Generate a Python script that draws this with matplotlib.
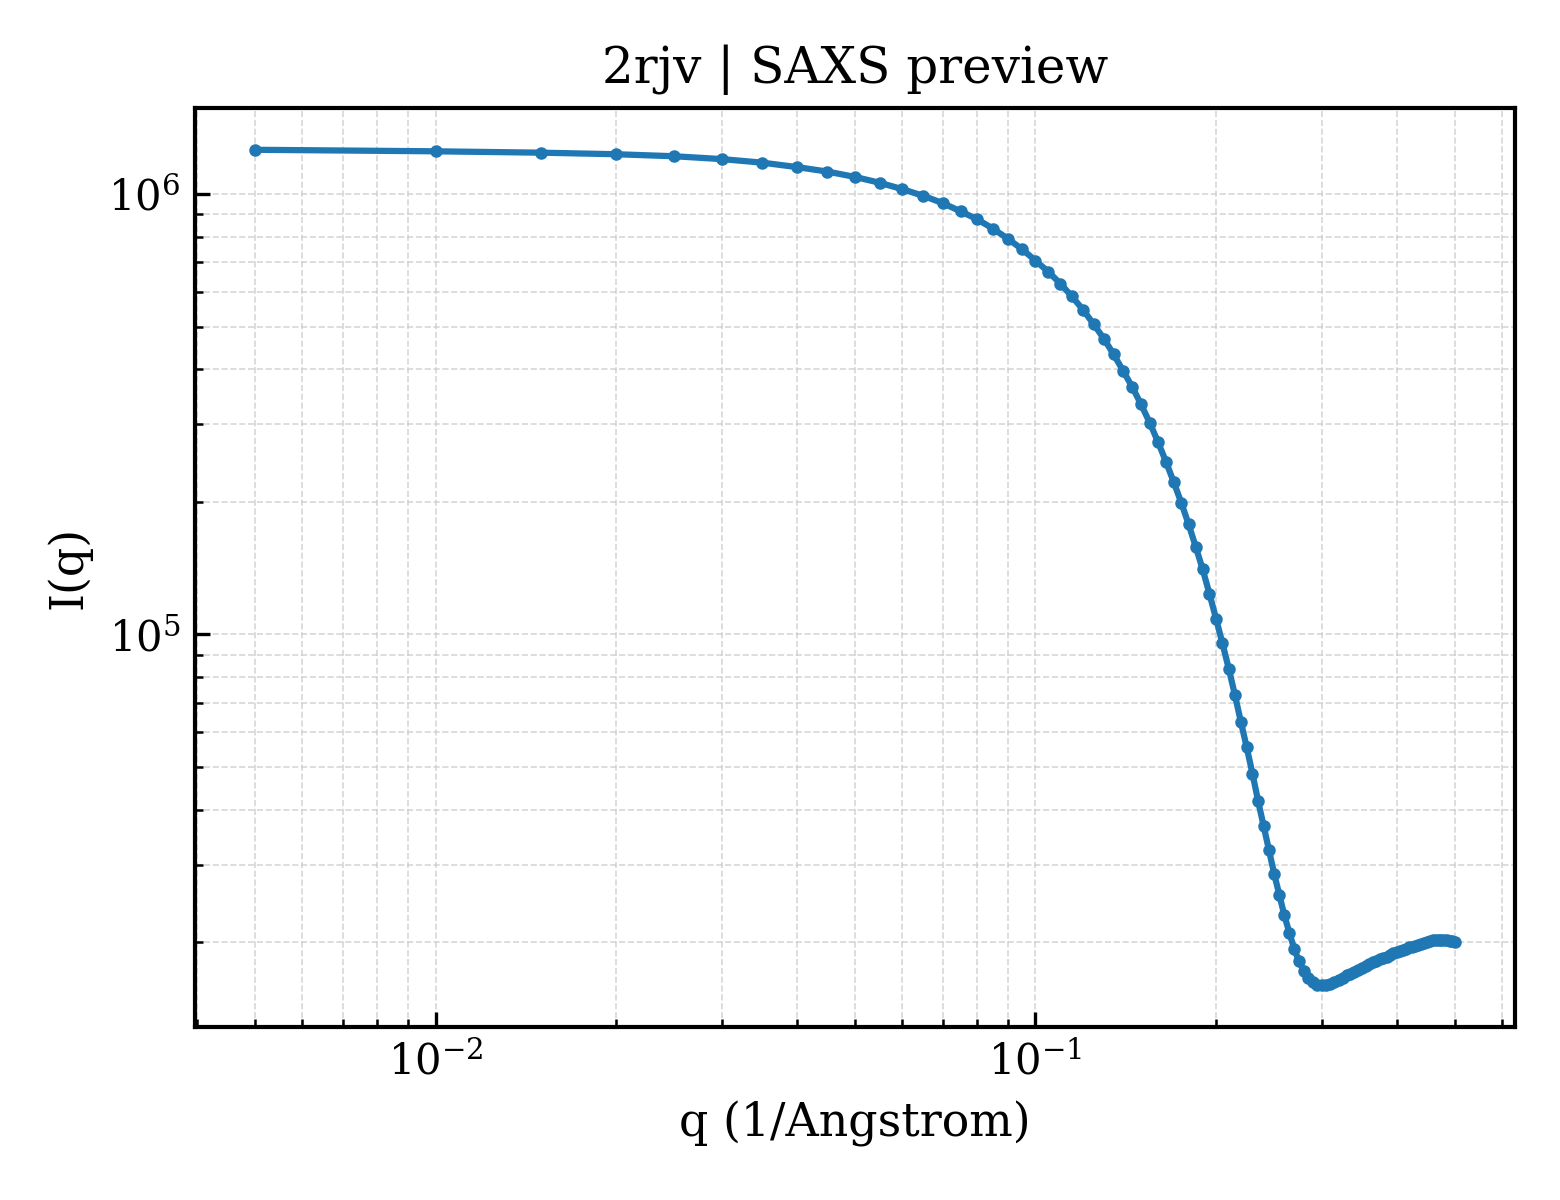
import numpy as np
import matplotlib
matplotlib.use("Agg")
import matplotlib.pyplot as plt

plt.rcParams['font.family'] = ['DejaVu Serif']
plt.rcParams['mathtext.fontset'] = 'dejavuserif'

# q grid of the profile, 0.005 .. 0.5 step 0.005
q = np.linspace(0.005, 0.5, 100)

# intensity
I_q = np.array([
    1.262e6, 1.252e6, 1.243e6, 1.233e6, 1.220e6, 1.202e6, 1.180e6, 1.153e6, 1.126e6, 1.095e6,
    1.062e6, 1.027e6, 0.992e6, 0.955e6, 0.915e6, 0.877e6, 0.835e6, 0.792e6, 0.750e6, 0.707e6,
    0.667e6, 0.627e6, 0.586e6, 0.547e6, 0.507e6, 0.470e6, 0.433e6, 0.397e6, 0.365e6, 0.333e6,
    0.303e6, 0.274e6, 0.247e6, 0.222e6, 0.1992e6, 0.178e6, 0.1582e6, 0.1406e6, 0.1237e6, 0.1086e6,
    95.4e3, 83.6e3, 72.9e3, 63.3e3, 55.4e3, 48.3e3, 41.9e3, 36.8e3, 32.4e3, 28.6e3,
    25.6e3, 23.0e3, 21.0e3, 19.3e3, 18.1e3, 17.2e3, 16.6e3, 16.2e3, 16.0e3, 15.95e3,
    16.0e3, 16.1e3, 16.25e3, 16.4e3, 16.6e3, 16.8e3, 16.95e3, 17.1e3, 17.3e3, 17.5e3,
    17.7e3, 17.85e3, 18.0e3, 18.15e3, 18.3e3, 18.4e3, 18.55e3, 18.7e3, 18.85e3, 19.0e3,
    19.1e3, 19.2e3, 19.3e3, 19.45e3, 19.55e3, 19.65e3, 19.75e3, 19.85e3, 19.95e3, 20.05e3,
    20.15e3, 20.2e3, 20.25e3, 20.25e3, 20.25e3, 20.25e3, 20.2e3, 20.15e3, 20.1e3, 20.05e3,
])

fig, ax = plt.subplots(figsize=(5.2, 4), dpi=300)
ax.loglog(q, I_q, '-o', color='#1f77b4', lw=1.5, ms=2.0)
ax.set_xlabel('q (1/Angstrom)', fontsize=11)
ax.set_ylabel('I(q)', fontsize=11)
ax.set_title('2rjv | SAXS preview', fontsize=12)
ax.grid(True, which='both', ls='--', lw=0.4, color='#cccccc', alpha=0.8)
ax.tick_params(which='both', direction='in')
for s in ax.spines.values():
    s.set_linewidth(1.0)
fig.subplots_adjust(left=0.125, right=0.971, top=0.91, bottom=0.144)
plt.savefig('out.png', dpi=300)
